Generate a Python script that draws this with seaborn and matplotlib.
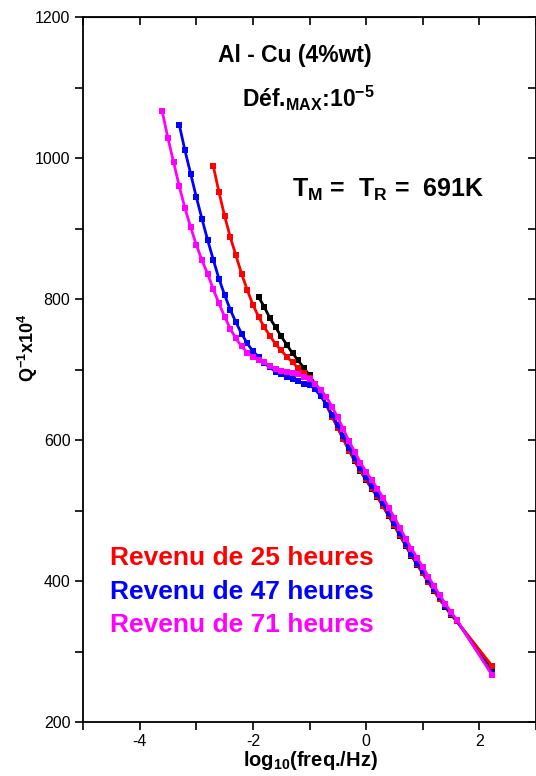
import matplotlib
matplotlib.use("Agg")
import matplotlib.pyplot as plt
from matplotlib.ticker import MultipleLocator
import seaborn as sns

# --- data (log10 freq, Q^-1 x 10^4) ---
x_black = [-1.9, -1.8, -1.7, -1.6, -1.5, -1.4, -1.3, -1.2, -1.1, -1.0,
           -0.9, -0.8, -0.7, -0.6, -0.5, -0.4, -0.3, -0.2, -0.1, 0.0,
           0.1, 0.2, 0.3, 0.4, 0.5, 0.6, 0.7, 0.8, 0.9, 1.0,
           1.1, 1.2, 1.3, 1.4, 1.5, 1.6, 2.22]
q_black = [803, 789, 773, 760, 747, 735, 723, 713, 702, 692,
           679, 665, 650, 634, 617, 601, 585, 570, 556, 543,
           531, 519, 506, 492, 478, 464, 450, 436, 423, 411,
           398, 386, 374, 363, 352, 343, 277]

x_25h = [-2.7, -2.6, -2.5, -2.4, -2.3, -2.2, -2.1, -2.0, -1.9, -1.8,
         -1.7, -1.6, -1.5, -1.4, -1.3, -1.2, -1.1, -1.0,
         -0.9, -0.8, -0.7, -0.6, -0.5, -0.4, -0.3, -0.2, -0.1, 0.0,
         0.1, 0.2, 0.3, 0.4, 0.5, 0.6, 0.7, 0.8, 0.9, 1.0,
         1.1, 1.2, 1.3, 1.4, 1.5, 1.6, 2.22]
q_25h = [989, 952, 918, 888, 862, 836, 813, 792, 775, 760,
         748, 736, 727, 718, 710, 702, 695, 688,
         677, 664, 649, 633, 617, 601, 585, 571, 557, 544,
         532, 520, 507, 493, 479, 465, 451, 437, 424, 412,
         399, 387, 375, 364, 353, 343, 280]

x_47h = [-3.3, -3.2, -3.1, -3.0, -2.9, -2.8, -2.7, -2.6, -2.5, -2.4,
         -2.3, -2.2, -2.1, -2.0, -1.9, -1.8, -1.7, -1.6, -1.5, -1.4,
         -1.3, -1.2, -1.1, -1.0, -0.9, -0.8, -0.7, -0.6, -0.5, -0.4,
         -0.3, -0.2, -0.1, 0.0, 0.1, 0.2, 0.3, 0.4, 0.5, 0.6,
         0.7, 0.8, 0.9, 1.0, 1.1, 1.2, 1.3, 1.4, 1.5, 1.6, 2.22]
q_47h = [1047, 1011, 978, 945, 914, 884, 856, 829, 806, 785,
         767, 751, 737, 726, 718, 709, 703, 697, 693, 689,
         686, 683, 680, 678, 672, 662, 650, 636, 621, 605,
         589, 574, 560, 547, 535, 523, 510, 496, 482, 468,
         453, 439, 426, 414, 401, 389, 377, 365, 354, 344, 269]

x_71h = [-3.6, -3.5, -3.4, -3.3, -3.2, -3.1, -3.0, -2.9, -2.8, -2.7,
         -2.6, -2.5, -2.4, -2.3, -2.2, -2.1, -2.0, -1.9, -1.8, -1.7,
         -1.6, -1.5, -1.4, -1.3, -1.2, -1.1, -1.0, -0.9, -0.8, -0.7,
         -0.6, -0.5, -0.4, -0.3, -0.2, -0.1, 0.0, 0.1, 0.2, 0.3,
         0.4, 0.5, 0.6, 0.7, 0.8, 0.9, 1.0, 1.1, 1.2, 1.3,
         1.4, 1.5, 1.6, 2.22]
q_71h = [1066, 1028, 994, 960, 929, 902, 877, 855, 836, 814,
         794, 775, 758, 744, 733, 724, 718, 714, 710, 705,
         701, 698, 697, 695, 693, 690, 686, 680, 671, 661,
         647, 632, 615, 598, 583, 568, 555, 543, 531, 518,
         504, 490, 475, 460, 446, 433, 420, 406, 393, 380,
         368, 356, 345, 267]

labels = ["Revenu de 25 heures", "Revenu de 47 heures", "Revenu de 71 heures"]
colors = ["#ff0000", "#0000ff", "#ff00ff"]

sns.set_style("ticks")
plt.rcParams['font.family'] = ['Liberation Sans', 'DejaVu Sans']
plt.rcParams['mathtext.fontset'] = 'custom'
plt.rcParams['mathtext.rm'] = 'Liberation Sans'
plt.rcParams['mathtext.bf'] = 'Liberation Sans:bold'
plt.rcParams['mathtext.it'] = 'Liberation Sans:italic'
plt.rcParams['axes.unicode_minus'] = False
for k in ['text.color', 'axes.labelcolor', 'xtick.color', 'ytick.color', 'axes.edgecolor']:
    plt.rcParams[k] = 'black'

fig = plt.figure(figsize=(5.36, 7.76), dpi=100)
ax = fig.add_axes([83 / 536, 54 / 776, 453 / 536, 705 / 776])

series = [(x_black, q_black, "black"),
          (x_25h, q_25h, colors[0]),
          (x_47h, q_47h, colors[1]),
          (x_71h, q_71h, colors[2])]
for xs, qs, c in series:
    sns.lineplot(x=xs, y=qs, ax=ax, color=c, lw=2.0, marker="s",
                 markersize=4.8, markeredgewidth=0, legend=False)

ax.set_xlim(-5, 3)
ax.set_ylim(200, 1200)
ax.xaxis.set_major_locator(MultipleLocator(2))
ax.xaxis.set_minor_locator(MultipleLocator(1))
ax.yaxis.set_major_locator(MultipleLocator(200))
ax.yaxis.set_minor_locator(MultipleLocator(100))
ax.tick_params(which='both', direction='out', length=5.5, width=1.2,
               labelsize=11.5, pad=3.5, color='black')
for s in ax.spines.values():
    s.set_linewidth(1.3)
    s.set_visible(True)

# mirrored inward ticks on top / right
top = ax.secondary_xaxis('top')
top.xaxis.set_major_locator(MultipleLocator(2))
top.xaxis.set_minor_locator(MultipleLocator(1))
top.tick_params(which='both', direction='in', length=5.5, width=1.2, labeltop=False)
right = ax.secondary_yaxis('right')
right.yaxis.set_major_locator(MultipleLocator(200))
right.yaxis.set_minor_locator(MultipleLocator(100))
right.tick_params(which='both', direction='in', length=5.5, width=1.2, labelright=False)

ax.set_xlabel(r"$\mathbf{log_{10}}$(freq./Hz)", fontsize=14.5, fontweight='bold')
ax.xaxis.set_label_coords(0.501, -0.038)
ax.set_ylabel(r"Q$^{\mathbf{-1}}$x10$^{\mathbf{4}}$", fontsize=13, fontweight='bold')
ax.yaxis.set_label_coords(-0.095, 0.53)

ax.text(0.468, 0.946, "Al - Cu (4%wt)", transform=ax.transAxes,
        ha='center', va='center', fontsize=16.5, fontweight='bold')
ax.text(0.497, 0.885, r"Déf.$_{\mathbf{MAX}}$:10$^{\mathbf{-5}}$", transform=ax.transAxes,
        ha='center', va='center', fontsize=16.5, fontweight='bold')
ax.text(0.461, 0.755, r"T$_{\mathbf{M}}$ =  T$_{\mathbf{R}}$ =  691K", transform=ax.transAxes,
        ha='left', va='center', fontsize=18, fontweight='bold')

for lab, c, fy in zip(labels, colors, [0.232, 0.185, 0.137]):
    ax.text(0.06, fy, lab, transform=ax.transAxes, ha='left', va='center',
            fontsize=19, fontweight='bold', color=c)

fig.savefig("out.png", dpi=100)
